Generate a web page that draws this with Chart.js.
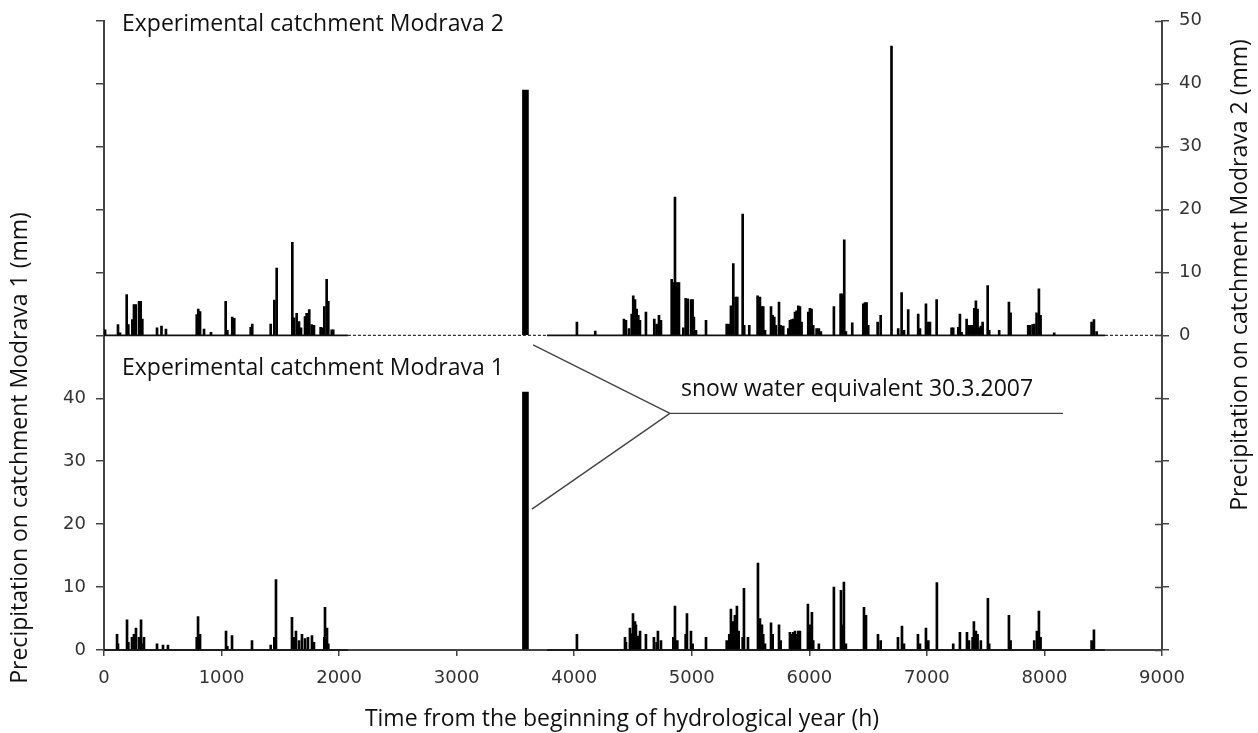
<!DOCTYPE html>
<html><head><meta charset="utf-8">
<script src="https://cdn.jsdelivr.net/npm/chart.js@4.4.1/dist/chart.umd.min.js"></script>
<style>html,body{margin:0;padding:0;background:#fff;}</style>
</head><body>
<canvas id="c" width="1258" height="733"></canvas>
<script>
// ---------- DATA ----------
const xTickStep = 1000;
const m2Hours = [9,119,136,193,207,241,255,270,298,312,326,451,489,527,789,802,817,851,910,1035,1049,1091,1108,1248,1261,1418,1449,1469,1602,1616,1639,1659,1676,1710,1724,1746,1767,1786,1843,1860,1874,1894,1908,1937,1950,
 4023,4179,4423,4440,4466,4489,4502,4517,4531,4545,4559,4610,4681,4701,4721,4738,4829,4843,4857,4877,4891,4928,4948,4965,4993,5007,5018,5036,5121,5297,5319,5333,5353,5373,5387,5433,5446,5489,5560,5580,5594,5608,5623,5674,5688,5702,5716,5742,5756,5778,5821,5835,5849,5863,5878,5892,5906,5920,5934,5991,6005,6019,6033,6062,6081,6098,6209,6266,6283,6297,6311,6365,6459,6473,6487,6501,6581,6607,6699,6756,
 6785,6805,6841,6926,6941,6992,7012,7026,7083,7210,7224,7267,7281,7295,7338,7358,7372,7389,7403,7417,7431,7445,7459,7474,7517,7530,7615,7698,7712,7862,7876,7899,7913,7933,7953,7967,8083,8401,8421,8444];
const m2Values = [0.9,1.7,0.4,6.5,1.7,2.5,4.9,4.9,5.4,5.4,2.6,1.2,1.5,1.0,3.3,4.2,3.8,1.0,0.5,5.4,0.8,2.9,2.7,1.3,1.8,1.8,5.6,10.7,14.8,2.8,3.5,2.2,1.2,3.0,3.5,4.1,1.7,1.6,1.3,1.2,4.6,8.9,5.4,0.9,0.9,
 2.1,0.7,2.6,2.4,1.1,3.4,6.3,5.7,4.2,3.2,2.4,3.7,2.6,1.8,3.2,2.4,8.9,8.4,22.0,8.4,8.4,1.2,5.9,5.8,5.7,5.7,2.9,0.8,2.4,1.8,1.8,4.7,11.4,6.1,6.1,19.3,1.6,1.6,6.3,6.1,4.6,4.6,0.8,4.6,3.2,2.9,1.6,5.3,1.6,1.5,1.1,2.4,2.5,2.6,3.7,3.9,4.7,4.6,2.1,3.7,4.3,4.2,1.6,1.1,1.1,0.6,4.6,6.6,6.6,15.2,0.6,2.0,5.0,5.2,5.2,1.6,2.1,3.2,46.0,1.1,
 6.8,0.8,4.1,3.4,1.1,5.0,2.1,2.1,5.7,1.2,1.2,1.3,3.4,0.5,2.6,1.6,1.6,1.6,4.3,5.5,4.2,1.2,1.5,2.1,7.9,0.8,0.8,5.3,3.6,1.6,1.6,1.7,1.8,3.6,7.4,3.2,0.4,2.1,2.5,0.6];
const m1Hours = [111,119,196,207,238,255,272,298,315,326,340,451,502,544,789,800,817,1038,1049,1089,1259,1418,1449,1463,1599,1616,1633,1659,1684,1710,1735,1769,1786,1874,1880,1897,1908,
 4023,4432,4440,4474,4489,4500,4517,4525,4545,4560,4610,4678,4701,4712,4738,4843,4857,4877,4948,4959,4993,5007,5121,5297,5319,5333,5353,5367,5384,5399,5433,5444,5478,5563,5580,5597,5608,5623,5674,5688,5742,5756,5835,5849,5863,5878,5892,5906,5920,5988,6005,6022,6033,6081,6209,6269,6283,6294,6311,6465,6473,6482,6584,6607,6754,6788,6805,6924,6941,6992,7012,7085,7224,7281,7341,7358,7389,7400,7417,7431,7459,7519,7530,7698,7712,7913,7936,7953,7967,8401,8421];
const m1Values = [2.5,1.0,4.8,1.2,2,2.5,3.5,2.0,4.8,1.0,2,1,0.8,0.8,2.0,5.3,2.5,3,0.6,2.3,1.5,0.8,2.0,11.2,5.2,2.0,3,1.5,2.5,1.8,2,2.3,1.2,2.0,6.8,3.5,1.0,
 2.5,2,1.2,3.5,2.6,5.8,4.5,4,2.2,3,2.5,2,1.2,3,1.5,2.0,7,1.5,2.5,5.8,3,1.0,2,1.5,2.5,6.5,4.5,5.5,7,3.0,2.0,9.8,2,13.8,5.0,4,2.5,1.0,4.3,2.5,4,1.5,2.8,2.5,2.8,3,2.5,3.0,3,7.3,4.0,6,1.5,1.0,10,9.5,4.0,10.8,1.0,6.8,2.0,5.5,2.5,1.5,2,3.8,1.0,2.5,1.0,3.5,1.5,10.7,1.0,2.8,2.8,1.5,2.0,4.5,3,2.5,1.5,8.2,1.0,5.5,1.5,1.5,3,6.2,2.0,1.5,3.2];
const snowHour = [3585];
const snowM2 = [39];
const snowM1 = [41];
// zero lines of both panels: solid / dashed pieces (hours)
const baseSolid1 = [0, 2075];
const baseDashed1 = [2075, 3768];
const baseSolid2 = [3768, 8515];
const baseDashed2 = [8515, 9000];
// annotation lines (hours, Modrava 2 axis units)
const annUpperX = [3650, 4814];
const annUpperY = [-1.5, -12.4];
const annLowerX = [3640, 4814];
const annLowerY = [-27.6, -12.4];
const annHorizX = [4814, 8157];
const annHorizY = [-12.4, -12.4];

// ---------- BUILD ----------
const pts = (xs, ys) => xs.map((x, i) => ({x: x, y: ys[i]}));
const AX = '#444';
const lineDs = (xs, ys, dash, w, axis, col) => ({type:'line', data: pts(xs, ys), xAxisID:'x', yAxisID: axis || 'y2',
  borderColor: col || (dash ? '#333' : '#111'), borderWidth: w, borderDash: dash || [], pointRadius: 0, fill:false, tension:0, order: 0, clip: false});

const textPlugin = {
  id: 'texts',
  afterDraw(chart) {
    const ctx = chart.ctx, a = chart.chartArea;
    ctx.save();
    ctx.fillStyle = '#111';
    ctx.font = '23px "Open Sans"';
    ctx.textBaseline = 'middle';
    ctx.textAlign = 'left';
    ctx.fillText('Experimental catchment Modrava 2', 122, 24);
    ctx.fillText('Experimental catchment Modrava 1', 122, 368);
    ctx.fillText('snow water equivalent 30.3.2007', 681, 389);
    ctx.textAlign = 'center';
    ctx.fillText('Time from the beginning of hydrological year (h)', 622, 719);
    ctx.save(); ctx.translate(20, 448); ctx.rotate(-Math.PI/2);
    ctx.fillText('Precipitation on catchment Modrava 1 (mm)', 0, 0); ctx.restore();
    ctx.save(); ctx.translate(1240, 275); ctx.rotate(-Math.PI/2);
    ctx.fillText('Precipitation on catchment Modrava 2 (mm)', 0, 0); ctx.restore();
    // inner half of right-axis tick marks (ticks cross the axis)
    const s = chart.scales.y2;
    ctx.strokeStyle = AX; ctx.lineWidth = 1.5;
    s.ticks.forEach(t => {
      const py = Math.round(s.getPixelForValue(t.value)) + 0.5;
      ctx.beginPath(); ctx.moveTo(a.right - 7, py); ctx.lineTo(a.right, py); ctx.stroke();
    });
    ctx.restore();
  }
};

new Chart(document.getElementById('c'), {
  type: 'bar',
  data: {
    datasets: [
      {label:'Modrava 2', data: pts(m2Hours, m2Values), xAxisID:'x', yAxisID:'y2', backgroundColor:'#000', barThickness: 2, grouped:false, order: 1},
      {label:'Modrava 1', data: pts(m1Hours, m1Values), xAxisID:'x', yAxisID:'y', backgroundColor:'#000', barThickness: 2, grouped:false, order: 1},
      {label:'SWE Modrava 2', data: pts(snowHour, snowM2), xAxisID:'x', yAxisID:'y2', backgroundColor:'#000', barThickness: 6, grouped:false, order: 1},
      {label:'SWE Modrava 1', data: pts(snowHour, snowM1), xAxisID:'x', yAxisID:'y', backgroundColor:'#000', barThickness: 6, grouped:false, order: 1},
      lineDs(baseSolid1, [0,0], null, 1.6),
      lineDs(baseDashed1, [0,0], [3,2], 1.2),
      lineDs(baseSolid2, [0,0], null, 1.6),
      lineDs(baseDashed2, [0,0], [3,2], 1.2),
      lineDs(baseSolid1, [0,0], null, 1.6, 'y'),
      lineDs(baseSolid2, [0,0], null, 1.6, 'y'),
      lineDs(annUpperX, annUpperY, null, 1.4, 'y2', '#444'),
      lineDs(annLowerX, annLowerY, null, 1.4, 'y2', '#444'),
      lineDs(annHorizX, annHorizY, null, 1.4, 'y2', '#444')
    ]
  },
  options: {
    responsive: false, animation: false, devicePixelRatio: 1,
    layout: {padding: {top: 19, left: 0, right: 0, bottom: 0}},
    plugins: {legend: {display: false}, tooltip: {enabled: false}},
    scales: {
      x: {type:'linear', position:'bottom', min:0, max:9000, offset:false,
        ticks: {stepSize: xTickStep, autoSkip:false, maxRotation:0, color:'#333', padding: 12, font:{family:'DejaVu Sans', size:18}, callback: v => String(v)},
        grid: {drawOnChartArea:false, drawTicks:true, tickLength:6, color:AX, lineWidth:1.5, offset:false},
        border: {color:AX, width:2},
        afterFit: s => { s.height = 83; }},
      y: {position:'left', min:0, max:100,
        ticks: {stepSize:10, color:'#333', padding: 10, font:{family:'DejaVu Sans', size:18}, callback: v => v <= 40 ? String(v) : ''},
        grid: {drawOnChartArea:false, drawTicks:true, tickLength:8, color:AX, lineWidth:1.5},
        border: {color:AX, width:2},
        afterFit: s => { s.width = 104; }},
      y2: {position:'right', min:-50, max:50,
        ticks: {stepSize:10, color:'#333', padding: 10, font:{family:'DejaVu Sans', size:18}, callback: v => v >= 0 ? String(v) : ''},
        grid: {drawOnChartArea:false, drawTicks:true, tickLength:7, color:AX, lineWidth:1.5},
        border: {color:AX, width:2},
        afterFit: s => { s.width = 96; }}
    }
  },
  plugins: [textPlugin]
});
</script>
</body></html>
